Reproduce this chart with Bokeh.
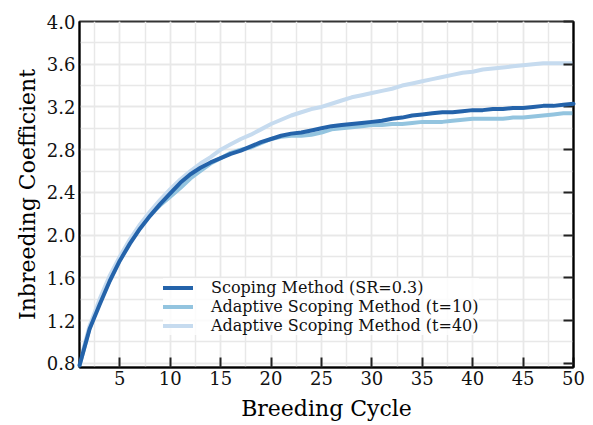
from bokeh.plotting import figure
from bokeh.models import LinearAxis, FixedTicker, Legend, LegendItem, NumeralTickFormatter
from bokeh.embed import file_html
from bokeh.resources import INLINE

cycles = list(range(1, 51))
scoping = [0.78, 1.12, 1.35, 1.57, 1.76, 1.92, 2.06, 2.18, 2.29, 2.39,
           2.49, 2.57, 2.63, 2.68, 2.72, 2.76, 2.79, 2.83, 2.87, 2.90,
           2.93, 2.95, 2.96, 2.98, 3.00, 3.02, 3.03, 3.04, 3.05, 3.06,
           3.07, 3.09, 3.10, 3.12, 3.13, 3.14, 3.15, 3.15, 3.16, 3.17,
           3.17, 3.18, 3.18, 3.19, 3.19, 3.20, 3.21, 3.21, 3.22, 3.23]
adaptive10 = [0.78, 1.13, 1.37, 1.58, 1.77, 1.93, 2.07, 2.19, 2.28, 2.36,
              2.44, 2.53, 2.60, 2.67, 2.72, 2.77, 2.80, 2.82, 2.86, 2.90,
              2.92, 2.93, 2.93, 2.94, 2.96, 2.99, 3.00, 3.01, 3.02, 3.03,
              3.03, 3.04, 3.04, 3.05, 3.06, 3.06, 3.06, 3.07, 3.08, 3.09,
              3.09, 3.09, 3.09, 3.10, 3.10, 3.11, 3.12, 3.13, 3.14, 3.14]
adaptive40 = [0.80, 1.15, 1.40, 1.62, 1.80, 1.96, 2.10, 2.22, 2.33, 2.43,
              2.52, 2.60, 2.67, 2.73, 2.80, 2.85, 2.90, 2.94, 2.99, 3.04,
              3.08, 3.12, 3.15, 3.18, 3.20, 3.23, 3.26, 3.29, 3.31, 3.33,
              3.35, 3.37, 3.40, 3.42, 3.44, 3.46, 3.48, 3.50, 3.52, 3.53,
              3.55, 3.56, 3.57, 3.58, 3.59, 3.60, 3.61, 3.61, 3.61, 3.61]
labels = ["Scoping Method (SR=0.3)", "Adaptive Scoping Method (t=10)",
          "Adaptive Scoping Method (t=40)"]
colors = ["#2463aa", "#93c4df", "#c6dbef"]

x_ticks = [5, 10, 15, 20, 25, 30, 35, 40, 45, 50]
x_minor = [2.5 * i for i in range(1, 21)]
y_ticks = [0.8, 1.2, 1.6, 2.0, 2.4, 2.8, 3.2, 3.6, 4.0]
y_minor = [round(0.8 + 0.2 * i, 2) for i in range(17)]

FONT = "DejaVu Serif"

p = figure(width=593, height=425, x_range=(1, 50), y_range=(0.76, 4.0),
           output_backend="svg", toolbar_location=None,
           min_border_left=79, min_border_right=20, min_border_top=21,
           min_border_bottom=58, background_fill_color="white",
           border_fill_color="white")

p.outline_line_color = "#333333"
p.outline_line_width = 2

xt = FixedTicker(ticks=x_ticks, minor_ticks=x_minor)
yt = FixedTicker(ticks=y_ticks, minor_ticks=y_minor)
p.xaxis.ticker = xt
p.yaxis.ticker = yt
p.yaxis.formatter = NumeralTickFormatter(format="0.0")
p.xgrid.ticker = xt
p.ygrid.ticker = yt
for g in (p.xgrid, p.ygrid):
    g.grid_line_color = "#e8e8e8"
    g.grid_line_width = 1.5
    g.minor_grid_line_color = "#e8e8e8"
    g.minor_grid_line_width = 1.5

ax = p.xaxis[0]
ax.axis_label = "Breeding Cycle"
ax.major_tick_in = 10
ax.major_tick_out = 0
ax.minor_tick_in = 0
ax.minor_tick_out = 0
ax.axis_line_color = "black"
ax.axis_line_width = 2
ax.major_tick_line_color = "#222222"
ax.major_tick_line_width = 2
ax.major_label_standoff = 3
ax.axis_label_standoff = 8

ay = p.yaxis[0]
ay.axis_label = "Inbreeding Coefficient"
ay.major_tick_in = 0
ay.major_tick_out = 0
ay.minor_tick_in = 0
ay.minor_tick_out = 0
ay.axis_line_color = "black"
ay.axis_line_width = 2
ay.major_label_standoff = 4
ay.axis_label_standoff = 4

for a in (ax, ay):
    a.axis_label_text_font = FONT
    a.axis_label_text_font_size = "22px"
    a.axis_label_text_font_style = "normal"
    a.axis_label_text_color = "black"
    a.major_label_text_font = FONT
    a.major_label_text_font_size = "18px"
    a.major_label_text_color = "#111111"

ry = LinearAxis(ticker=yt, major_tick_in=10, major_tick_out=0,
                minor_tick_in=0, minor_tick_out=0,
                axis_line_color="black", axis_line_width=2,
                major_tick_line_color="#222222", major_tick_line_width=2,
                major_label_text_color=None, major_label_standoff=0)
p.add_layout(ry, "right")

renderers = []
for ys, c in zip([scoping, adaptive10, adaptive40], colors):
    r = p.line(cycles, ys, line_color=c, line_width=4, line_join="round",
               line_cap="round")
    renderers.append(r)
renderers[0].level = "overlay"

items = [LegendItem(label=l, renderers=[r]) for l, r in zip(labels, renderers)]
legend = Legend(items=items, location=(84, 32), orientation="vertical",
                label_text_font=FONT, label_text_font_size="16px",
                label_text_color="#111111", label_text_line_height=1.0,
                glyph_width=30, glyph_height=17, label_height=17,
                label_standoff=18, spacing=0, padding=5, margin=0,
                border_line_color=None, background_fill_color="white",
                background_fill_alpha=0.8)
p.add_layout(legend)

open("out.html", "w").write(file_html(p, INLINE))
